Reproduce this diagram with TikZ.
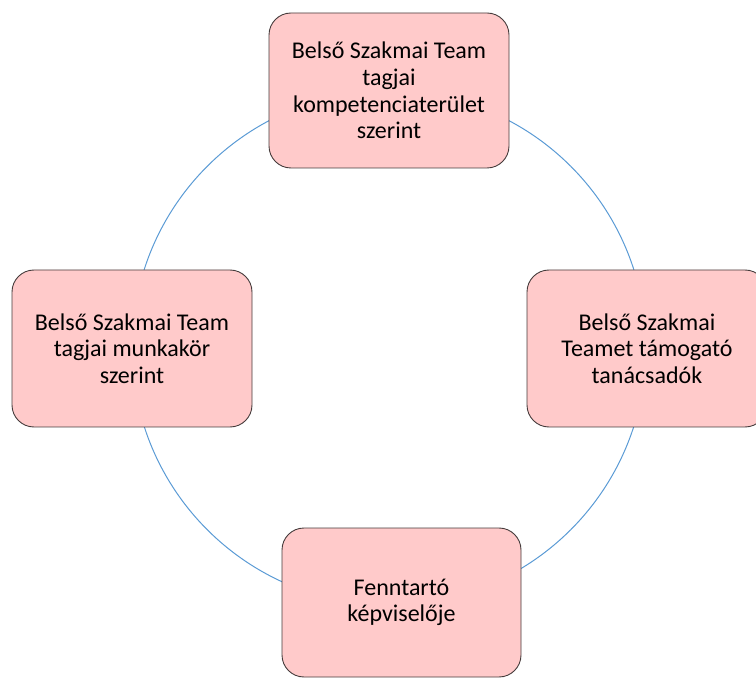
\documentclass[tikz,border=0pt]{standalone}
\usepackage{fontspec}
\setmainfont{Carlito}
\definecolor{boxfill}{RGB}{255,202,202}
\definecolor{boxline}{RGB}{70,60,60}
\definecolor{ringblue}{RGB}{91,155,213}
\tikzset{
  roundbox/.style={draw=boxline, line width=0.9pt, fill=boxfill, rounded corners=22pt,
    align=center, inner sep=0pt, font=\fontsize{24}{26.6}\selectfont, text=black},
  ring/.style={draw=ringblue, line width=1pt}
}
\begin{document}
\begin{tikzpicture}[x=1pt,y=-1pt]
\useasboundingbox (0,0) rectangle (756,679);
\clip (0,0) rectangle (756,679);
\coordinate (c) at (389,348);
\draw[ring] (c) circle[radius=257];
\node[roundbox, minimum width=240pt, minimum height=155pt] (top) at (389,90.5)
  {Belső Szakmai Team\\tagjai\\kompetenciaterület\\szerint};
\node[roundbox, minimum width=240pt, minimum height=157pt] (left) at (132,348.5)
  {Belső Szakmai Team\\tagjai munkakör\\szerint};
\node[roundbox, minimum width=240pt, minimum height=157pt] (right) at (647,348.5)
  {Belső Szakmai\\Teamet támogató\\tanácsadók};
\node[roundbox, minimum width=239pt, minimum height=149pt] (bottom) at (401.5,602.5)
  {Fenntartó\\képviselője};
\end{tikzpicture}
\end{document}
